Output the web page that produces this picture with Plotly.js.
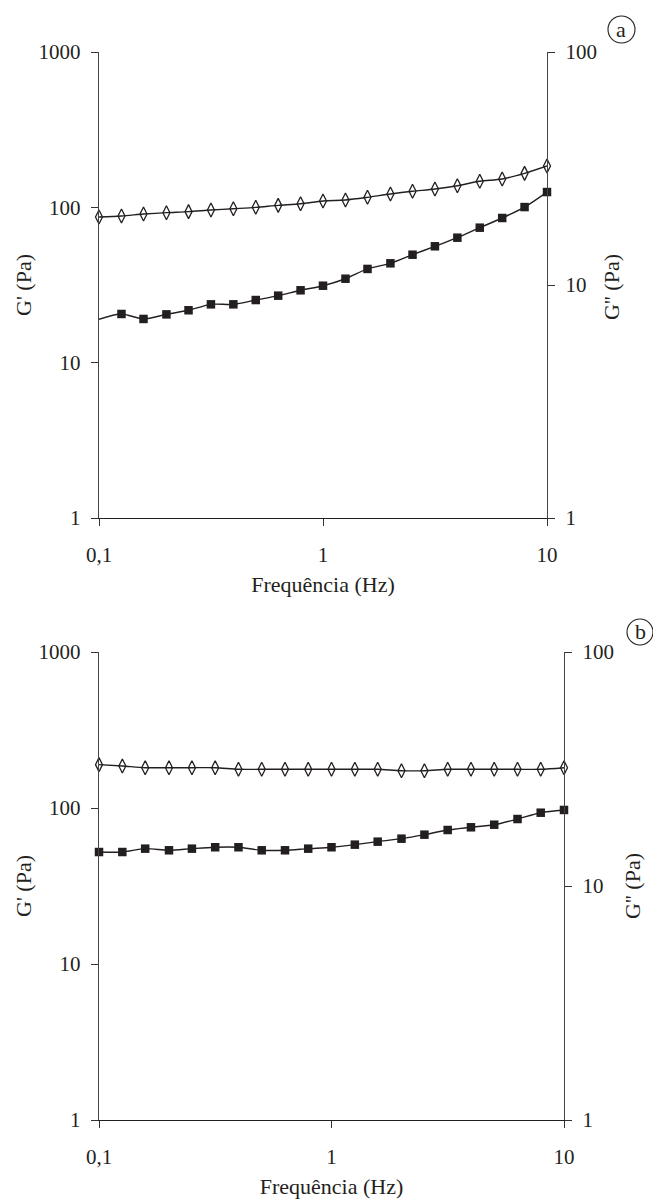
<!DOCTYPE html>
<html>
<head>
<meta charset="utf-8">
<script src="https://cdn.plot.ly/plotly-3.0.1.min.js"></script>
<style>html,body{margin:0;padding:0;background:#fff;}#chart{width:653px;height:1200px;}</style>
</head>
<body>
<div id="chart"></div>
<script>
// Frequency (Hz)
var freq = [0.1, 0.126, 0.158, 0.2, 0.251, 0.316, 0.398, 0.501, 0.631, 0.794, 1, 1.26, 1.58, 2, 2.51, 3.16, 3.98, 5.01, 6.31, 7.94, 10];

// Panel a
var gPrimeA  = [86.7, 88, 90.5, 92.4, 93.8, 96.1, 98, 100, 103, 105.5, 109.9, 111.5, 116, 121.9, 126.9, 131.2, 137.8, 147.1, 152.2, 165.5, 184.5];
var gDoubleA = [7.13, 7.51, 7.15, 7.48, 7.79, 8.26, 8.26, 8.62, 9.0, 9.49, 9.93, 10.64, 11.72, 12.39, 13.49, 14.66, 15.96, 17.62, 19.39, 21.6, 25.06];

// Panel b
var gPrimeB  = [189.6, 185.8, 181.3, 181.3, 181.3, 181.3, 177, 177, 177, 177, 177, 177, 177, 173.4, 173.4, 177, 177, 177, 177, 177, 181.3];
var gDoubleB = [13.97, 13.97, 14.44, 14.21, 14.44, 14.64, 14.64, 14.21, 14.21, 14.44, 14.64, 15.02, 15.47, 15.93, 16.57, 17.35, 17.82, 18.28, 19.33, 20.57, 21.13];

var xTickVals = [0.1, 1, 10];
var xTickText = ['0,1', '1', '10'];
var leftTickVals = [1, 10, 100, 1000];
var rightTickVals = [1, 10, 100];
var xTitle = 'Frequência (Hz)';
var leftTitle = "G' (Pa)";
var rightTitle = "G'' (Pa)";
var panelLabels = ['a', 'b'];

var W = 653, H = 1200;
var FONT = "'Liberation Serif', 'DejaVu Serif', serif";
var TXT = '#231f20';

function px(x){ return x / W; }
function py(y){ return 1 - y / H; }

var sqOpacityA = gDoubleA.map(function(v, i){ return i === 0 ? 0 : 1; });

var diamondMarker = {symbol: 'diamond-tall-open', size: 10, color: '#231f20', line: {width: 1.3, color: '#231f20'}};
function sqMarker(op){ var m = {symbol: 'square', size: 8.5, color: '#231f20', line: {width: 0}}; if (op) m.opacity = op; return m; }
var lineStyle = {color: '#231f20', width: 1.4, shape: 'spline', smoothing: 0.8};

var traces = [
  {x: freq, y: gPrimeA, xaxis: 'x', yaxis: 'y', mode: 'lines+markers', line: lineStyle, marker: diamondMarker, cliponaxis: false, name: "G'"},
  {x: freq, y: gDoubleA, xaxis: 'x', yaxis: 'y2', mode: 'lines+markers', line: lineStyle, marker: sqMarker(sqOpacityA), cliponaxis: false, name: "G''"},
  {x: freq, y: gPrimeB, xaxis: 'x2', yaxis: 'y3', mode: 'lines+markers', line: lineStyle, marker: diamondMarker, cliponaxis: false, name: "G'"},
  {x: freq, y: gDoubleB, xaxis: 'x2', yaxis: 'y4', mode: 'lines+markers', line: lineStyle, marker: sqMarker(null), cliponaxis: false, name: "G''"}
];

var tickFont = {family: FONT, size: 21, color: TXT};
function xAxis(domain, anchor){
  return {domain: domain, anchor: anchor, type: 'log', range: [-1, 1],
    tickvals: xTickVals, ticktext: xTickText, ticks: 'outside', ticklen: 7, tickwidth: 1, tickcolor: '#333',
    ticklabelstandoff: 10,
    showline: true, linecolor: '#231f20', linewidth: 1.4, showgrid: false, zeroline: false,
    tickfont: tickFont, title: {text: xTitle, font: {family: FONT, size: 22, color: TXT}, standoff: 11},
    automargin: false, fixedrange: true};
}
function yAxis(domain, anchor, range, vals, side, overlaying){
  var a = {domain: domain, anchor: anchor, type: 'log', range: range, side: side,
    tickvals: vals, ticktext: vals.map(String), ticks: 'outside', ticklen: 7, tickwidth: 1, tickcolor: '#333',
    ticklabelstandoff: 6,
    showline: true, linecolor: '#444', linewidth: 1.4, showgrid: false, zeroline: false,
    tickfont: tickFont, automargin: false, fixedrange: true};
  if (overlaying) a.overlaying = overlaying;
  return a;
}

var yDomA = [py(518), py(52)];
var yDomB = [py(1120), py(652)];

var annFont = {family: FONT, size: 22, color: TXT};
var annotations = [
  {text: leftTitle, xref: 'paper', yref: 'paper', x: px(23), y: py(285), textangle: -90, showarrow: false, font: annFont, xanchor: 'center', yanchor: 'middle'},
  {text: rightTitle, xref: 'paper', yref: 'paper', x: px(612), y: py(287), textangle: -90, showarrow: false, font: annFont, xanchor: 'center', yanchor: 'middle'},
  {text: leftTitle, xref: 'paper', yref: 'paper', x: px(23), y: py(886), textangle: -90, showarrow: false, font: annFont, xanchor: 'center', yanchor: 'middle'},
  {text: rightTitle, xref: 'paper', yref: 'paper', x: px(632), y: py(886), textangle: -90, showarrow: false, font: annFont, xanchor: 'center', yanchor: 'middle'},
  {text: panelLabels[0], xref: 'paper', yref: 'paper', x: px(621), y: py(29), showarrow: false, font: annFont, xanchor: 'center', yanchor: 'middle'},
  {text: panelLabels[1], xref: 'paper', yref: 'paper', x: px(640), y: py(632), showarrow: false, font: annFont, xanchor: 'center', yanchor: 'middle'}
];
var shapes = [
  {type: 'circle', xref: 'paper', yref: 'paper', x0: px(608), x1: px(635), y0: py(43), y1: py(16), line: {color: '#231f20', width: 1.1}},
  {type: 'circle', xref: 'paper', yref: 'paper', x0: px(627), x1: px(653), y0: py(645), y1: py(619), line: {color: '#231f20', width: 1.1}}
];

var layout = {
  width: W, height: H,
  margin: {l: 0, r: 0, t: 0, b: 0},
  paper_bgcolor: '#fff', plot_bgcolor: '#fff',
  showlegend: false,
  font: {family: FONT, size: 21, color: TXT},
  xaxis: xAxis([px(99), px(547)], 'y'),
  yaxis: yAxis(yDomA, 'x', [0, 3], leftTickVals, 'left'),
  yaxis2: yAxis(yDomA, 'x', [0, 2], rightTickVals, 'right', 'y'),
  xaxis2: xAxis([px(99), px(564)], 'y3'),
  yaxis3: yAxis(yDomB, 'x2', [0, 3], leftTickVals, 'left'),
  yaxis4: yAxis(yDomB, 'x2', [0, 2], rightTickVals, 'right', 'y3'),
  annotations: annotations,
  shapes: shapes
};

Plotly.newPlot('chart', traces, layout, {staticPlot: true, displayModeBar: false});
</script>
</body>
</html>
